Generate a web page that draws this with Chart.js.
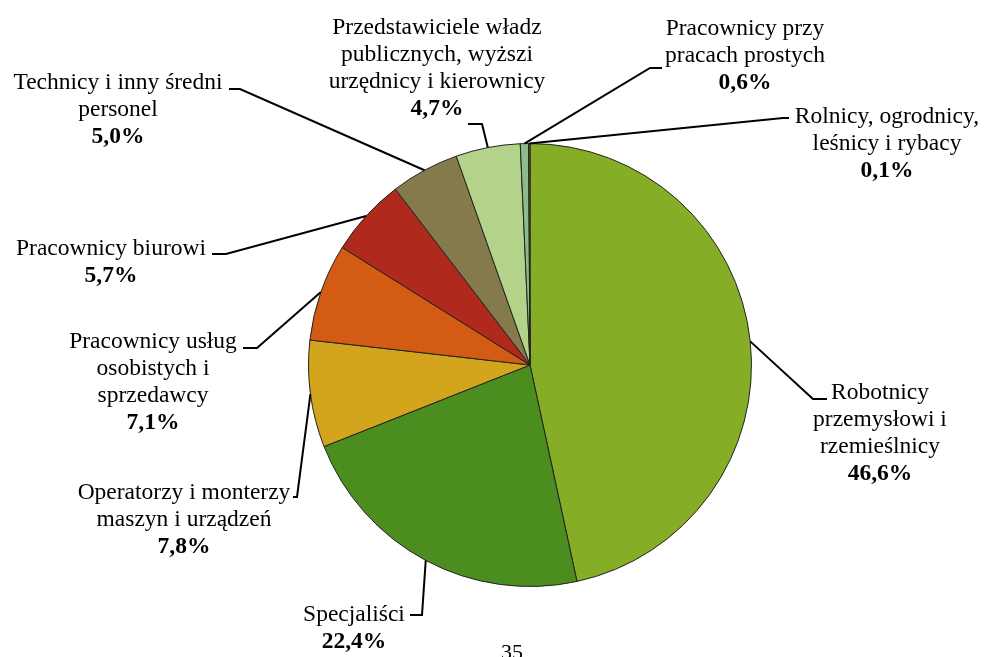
<!DOCTYPE html>
<html>
<head>
<meta charset="utf-8">
<script src="https://cdn.jsdelivr.net/npm/chart.js@4"></script>
<style>
  html, body { margin: 0; padding: 0; background: #fff; }
  canvas { display: block; }
</style>
</head>
<body>
<canvas id="pie" width="987" height="657"></canvas>
<script>
// data, clockwise from 12 o'clock
const groups = [
  ["Robotnicy", "przemysłowi i", "rzemieślnicy"],
  ["Specjaliści"],
  ["Operatorzy i monterzy", "maszyn i urządzeń"],
  ["Pracownicy usług", "osobistych i", "sprzedawcy"],
  ["Pracownicy biurowi"],
  ["Technicy i inny średni", "personel"],
  ["Przedstawiciele władz", "publicznych, wyższi", "urzędnicy i kierownicy"],
  ["Pracownicy przy", "pracach prostych"],
  ["Rolnicy, ogrodnicy,", "leśnicy i rybacy"]
];
const shares = [46.6, 22.4, 7.8, 7.1, 5.7, 5.0, 4.7, 0.6, 0.1];
const shareLabels = ["46,6%", "22,4%", "7,8%", "7,1%", "5,7%", "5,0%", "4,7%", "0,6%", "0,1%"];
const colors = ["#85ad25", "#4b8d1f", "#d2a51c", "#d35b14", "#af2a1c", "#857a4b", "#b3d38b", "#8fbb8c", "#557a2a"];

// label layout: first line centre, text centre x, elbow and end of the leader line
const labelPos = [
  { cx: 880, y: 393, elbow: [813, 399], end: [827, 399] },
  { cx: 354, y: 615, elbow: [422, 615], end: [410, 615] },
  { cx: 184, y: 493, elbow: [297, 497], end: [293, 497] },
  { cx: 153, y: 342, elbow: [257, 348], end: [243, 348] },
  { cx: 111, y: 249, elbow: [226, 254], end: [212, 254] },
  { cx: 118, y: 83, elbow: [240, 89], end: [229, 89] },
  { cx: 437, y: 28, elbow: [482, 124], end: [468, 124] },
  { cx: 745, y: 29, elbow: [650, 68], end: [662, 68] },
  { cx: 887, y: 117, elbow: [783, 118], end: [789, 118] }
];
const lineH = 27;
const fontFamily = "'Liberation Serif', 'Times New Roman', serif";

const labelsPlugin = {
  id: "pieLabels",
  afterDraw(chart) {
    const ctx = chart.ctx;
    const arcs = chart.getDatasetMeta(0).data;
    ctx.save();
    ctx.strokeStyle = "#000";
    ctx.lineWidth = 2;
    arcs.forEach((arc, i) => {
      const p = arc.getProps(["x", "y", "startAngle", "endAngle", "outerRadius"], true);
      const mid = (p.startAngle + p.endAngle) / 2;
      const sx = p.x + Math.cos(mid) * p.outerRadius;
      const sy = p.y + Math.sin(mid) * p.outerRadius;
      const lp = labelPos[i];
      ctx.beginPath();
      ctx.moveTo(sx, sy);
      ctx.lineTo(lp.elbow[0], lp.elbow[1]);
      ctx.lineTo(lp.end[0], lp.end[1]);
      ctx.stroke();

      ctx.fillStyle = "#000";
      ctx.textAlign = "center";
      ctx.textBaseline = "middle";
      ctx.font = "23.5px " + fontFamily;
      groups[i].forEach((t, k) => ctx.fillText(t, lp.cx, lp.y + k * lineH));
      ctx.font = "bold 23.5px " + fontFamily;
      ctx.fillText(shareLabels[i], lp.cx, lp.y + groups[i].length * lineH);
    });
    // page number, cut at the bottom edge
    ctx.font = "22px " + fontFamily;
    ctx.textBaseline = "alphabetic";
    ctx.fillText("35", 512, 659);
    ctx.restore();
  }
};

new Chart(document.getElementById("pie"), {
  type: "pie",
  data: {
    labels: groups.map(g => g.join(" ")),
    datasets: [{
      data: shares,
      backgroundColor: colors,
      borderColor: "#222",
      borderWidth: 1
    }]
  },
  options: {
    responsive: false,
    animation: false,
    layout: { padding: { left: 308, right: 235, top: 143, bottom: 70 } },
    plugins: { legend: { display: false }, tooltip: { enabled: false } }
  },
  plugins: [labelsPlugin]
});
</script>
</body>
</html>
